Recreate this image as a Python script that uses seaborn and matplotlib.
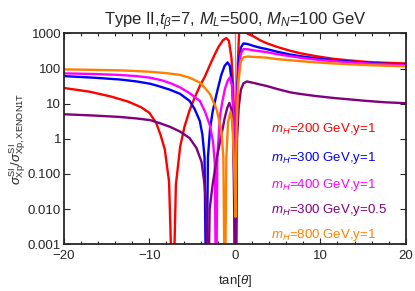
import numpy as np
import pandas as pd
import seaborn as sns
import matplotlib
matplotlib.use("Agg")
import matplotlib.pyplot as plt
from matplotlib.ticker import MultipleLocator, FixedLocator, FixedFormatter

# curves (tan(theta), sigma ratio); 1e-5 marks a zero below the axis
red_t = [-20, -17, -14.5, -12.5, -11, -10, -9.2, -8.7, -8.2, -7.7, -7.25, -6.9, -6.4, -5.9,
         -5.3, -4.7, -4.1, -3.5, -2.9, -2.4, -1.9, -1.4, -1.0, -0.7, -0.4, -0.2, -0.05, 0.08,
         0.2, 0.35, 0.5, 0.8, 1.2, 1.6, 2.1, 3.0, 3.7, 5.0, 6.5, 7.6, 9.5, 11.5, 13.5, 15.4, 17.5, 20]
red_r = [28, 22, 16, 11.5, 8, 5.5, 2.8, 1.3, 0.5, 0.06, 1e-5, 0.05, 0.6, 2.2,
         6.5, 15, 32, 60, 130, 240, 420, 640, 740, 620, 200, 30, 1, 1e-5,
         3, 150, 1200, 2500, 1100, 950, 850, 630, 530, 410, 320, 275, 225, 190, 170, 155, 147, 140]

blue_t = [-20, -16.5, -13.5, -11.5, -9.9, -8.8, -7.6, -6.4, -5.3, -4.7, -4.1, -3.8, -3.55, -3.35,
          -3.15, -2.9, -2.6, -2.1, -1.6, -1.2, -0.85, -0.6, -0.35, -0.15, 0.08, 0.25, 0.45, 0.7,
          1.0, 1.5, 2.2, 3.0, 3.7, 5.0, 6.5, 7.6, 9.5, 11.5, 13.5, 15.4, 17.5, 20]
blue_r = [61, 55, 49, 43, 37, 31, 25, 19, 12, 7, 3.2, 1.3, 0.3, 1e-5,
          0.3, 2, 6, 21, 65, 120, 150, 120, 40, 5, 1e-5, 20, 150, 400,
          520, 500, 440, 390, 360, 300, 250, 227, 195, 174, 158, 146, 137, 130]

mag_t = [-20, -16.5, -13.5, -11.5, -9.9, -8.5, -7.5, -6.4, -5.3, -4.1, -3.5, -2.9, -2.55, -2.35,
         -2.2, -2.05, -1.75, -1.45, -1.17, -0.85, -0.58, -0.35, -0.15, 0.08, 0.25, 0.45, 0.7,
         1.0, 1.5, 2.2, 3.0, 3.7, 5.0, 6.5, 7.6, 9.5, 11.5, 13.5, 15.4, 17.5, 20]
mag_r = [73, 70, 66, 61, 55, 46, 38, 29, 20, 12, 6, 2.3, 0.8, 0.2,
         1e-5, 0.3, 4.4, 12, 26, 45, 56, 35, 5, 1e-5, 12, 90, 270,
         360, 355, 330, 310, 295, 255, 225, 205, 180, 163, 150, 140, 132, 125]

pur_t = [-20, -16.5, -13.5, -11.5, -9.9, -8.8, -7.6, -6.4, -5.3, -4.5, -3.9, -3.55, -3.35, -3.15,
         -2.95, -2.6, -2.1, -1.6, -1.2, -0.9, -0.65, -0.4, -0.2, 0.08, 0.25, 0.45, 0.7, 1.0,
         1.4, 2.2, 3.0, 3.7, 5.0, 6.5, 7.6, 9.5, 11.5, 13.5, 15.4, 17.5, 20]
pur_r = [5.0, 4.6, 4.2, 3.8, 3.4, 2.8, 2.2, 1.6, 1.05, 0.55, 0.22, 0.05, 0.01, 1e-5,
         0.01, 0.05, 0.3, 1.2, 3.8, 7.5, 10.5, 7, 1.5, 1e-5, 1, 8, 25, 38,
         43, 39, 35, 32, 26, 21, 19, 16.5, 14.6, 13.2, 12, 11, 10.3]

ora_t = [-20, -16.5, -13.5, -11.5, -9.9, -8, -6.4, -5.3, -4.1, -3.5, -2.9, -2.5, -2.14, -1.8,
         -1.56, -1.35, -1.17, -1.0, -0.8, -0.5, -0.3, -0.1, 0.08, 0.2, 0.4, 0.7, 1.0, 1.5,
         2.2, 3.0, 3.7, 5.0, 6.5, 7.6, 9.5, 11.5, 13.5, 15.4, 17.5, 20]
ora_r = [95, 92, 89, 85, 81, 74, 66, 55, 40, 28, 18.6, 11, 6.9, 3,
         1.5, 0.3, 1e-5, 0.3, 3, 6, 3, 0.2, 0.006, 2, 40, 160, 210, 220,
         215, 210, 205, 185, 172, 163, 150, 140, 132, 126, 121, 116]

labels = ["$m_H$=200 GeV,y=1", "$m_H$=300 GeV,y=1", "$m_H$=400 GeV,y=1",
          "$m_H$=300 GeV,y=0.5", "$m_H$=800 GeV,y=1"]
colors = ["#ff0000", "#0000ff", "#ff00ff", "#800080", "#ff8000"]
ytick_vals = [0.001, 0.01, 0.1, 1, 10, 100, 1000]
ytick_text = ["0.001", "0.010", "0.100", "1", "10", "100", "1000"]

frames = []
for lab, t, r in zip(labels, [red_t, blue_t, mag_t, pur_t, ora_t],
                     [red_r, blue_r, mag_r, pur_r, ora_r]):
    frames.append(pd.DataFrame({"t": t, "r": r, "curve": lab}))
df = pd.concat(frames, ignore_index=True)

sns.set_style("ticks")
plt.rcParams['font.family'] = ['Liberation Sans', 'DejaVu Sans']
plt.rcParams['mathtext.fontset'] = 'custom'
plt.rcParams['mathtext.rm'] = 'Liberation Sans'
plt.rcParams['mathtext.it'] = 'Liberation Sans:italic'

fig = plt.figure(figsize=(4.15, 2.91), dpi=100)
ax = fig.add_axes([0.154, 0.161, 0.824, 0.724])

ax.axvline(0, color="#999999", lw=0.8, zorder=1)
sns.lineplot(data=df, x="t", y="r", hue="curve", hue_order=labels, palette=colors,
             sort=False, estimator=None, legend=False, lw=1.7, ax=ax)

ax.set_yscale("log")
ax.set_xlim(-20, 20)
ax.set_ylim(0.001, 1000)
ax.yaxis.set_major_locator(FixedLocator(ytick_vals))
ax.yaxis.set_major_formatter(FixedFormatter(ytick_text))
ax.yaxis.set_minor_locator(FixedLocator([]))
ax.xaxis.set_major_locator(MultipleLocator(10))
ax.xaxis.set_minor_locator(MultipleLocator(2))
ax.tick_params(which="both", direction="in", top=True, right=True, labelsize=9.5,
               width=0.8)
ax.tick_params(axis="x", pad=4)
ax.tick_params(axis="y", pad=2)
ax.tick_params(which="major", length=4)
ax.tick_params(which="minor", length=2.5)
for s in ax.spines.values():
    s.set_linewidth(1.3)

ax.set_xlabel(r"tan[$\theta$]", fontsize=9.5, labelpad=8)
ax.set_ylabel(r"$\sigma^{\rm SI}_{\rm Xp}/\sigma^{\rm SI}_{\rm Xp,XENON1T}$", fontsize=9.5, labelpad=0)
ax.set_title(r"Type II,$t_\beta$=7, $M_L$=500, $M_N$=100 GeV", fontsize=12, pad=5)

ypos = [0.546, 0.411, 0.280, 0.162, 0.045]
for lab, c, yp in zip(labels, colors, ypos):
    ax.text(0.5 + 4.2 / 40, yp, lab, color=c, fontsize=9.5, transform=ax.transAxes,
            va="center", ha="left")

fig.savefig("out.png", dpi=100)
